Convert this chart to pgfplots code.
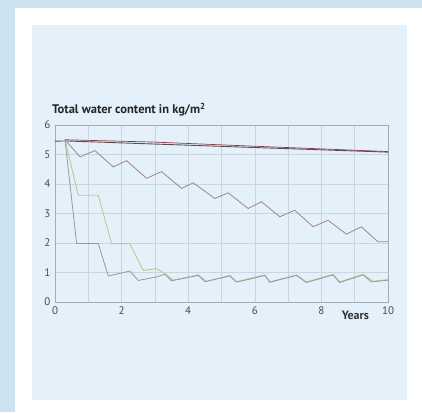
\documentclass[border=0pt]{standalone}
\usepackage{pgfplots}
\pgfplotsset{compat=1.18}
\usepackage{fontspec}
\setmainfont{PT Sans}
\definecolor{band}{HTML}{CDE2EF}
\definecolor{panel}{HTML}{E4F1FA}
\definecolor{gridc}{HTML}{C8D6DF}
\definecolor{axc}{HTML}{9FAEB8}
\definecolor{txt}{HTML}{4A4A4A}
\definecolor{topdark}{HTML}{5A5050}
\definecolor{topred}{HTML}{8C3B4E}
\definecolor{purp}{HTML}{A080A0}
\definecolor{greenl}{HTML}{B8CC92}
\definecolor{greyl}{HTML}{8E9CA4}
\begin{document}
\begin{tikzpicture}[x=1pt,y=1pt]
\fill[band] (0,0) rectangle (422,412);
\fill[white] (15,0) rectangle (422,404);
\fill[panel] (32,12) rectangle (407,387);
\node[anchor=base west,font=\fontsize{12.5}{14}\selectfont\bfseries,text=black!85,inner sep=0] at (52,298) {Total water content in kg/m\textsuperscript{2}};
\begin{axis}[
  at={(55pt,110pt)}, anchor=south west,
  scale only axis, width=333pt, height=177pt,
  xmin=0, xmax=10, ymin=0, ymax=6,
  xtick={0,2,4,6,8,10}, minor xtick={1,3,5,7,9},
  ytick={0,1,2,3,4,5,6},
  grid=both,
  major grid style={gridc, line width=0.5pt},
  minor grid style={gridc, line width=0.5pt},
  axis line style={axc, line width=0.7pt},
  tick style={draw=none},
  minor tick style={draw=none},
  /pgf/number format/assume math mode=true,
  ticklabel style={font=\fontsize{11}{12}\selectfont, text=txt},
  xticklabel style={yshift=-1pt},
  yticklabel style={xshift=-1pt},
  clip=false,
]
\addplot[topdark, line width=0.9pt] coordinates {(0,5.45) (0.3,5.46) (10,5.08)};
\addplot[topred, line width=0.7pt] coordinates {(0.3,5.5) (3,5.42) (6,5.28) (10,5.1)};
\addplot[purp, line width=0.8pt] coordinates {
(0.3,5.5)(0.75,4.92)(1.2,5.13)(1.75,4.58)(2.15,4.79)(2.75,4.19)(3.2,4.42)(3.8,3.85)(4.15,4.04)(4.8,3.51)(5.2,3.70)(5.8,3.17)(6.2,3.40)(6.75,2.89)(7.2,3.11)(7.75,2.55)(8.2,2.77)(8.75,2.30)(9.2,2.55)(9.7,2.04)(10,2.04)};
\addplot[greenl, line width=0.9pt] coordinates {
(0.3,5.5)(0.7,3.62)(1.3,3.62)(1.7,1.98)(2.25,1.98)(2.65,1.07)(3.05,1.13)(3.3,0.97)(3.55,0.74)(4.3,0.92)(4.55,0.70)(5.25,0.9)(5.45,0.69)(6.3,0.92)(6.45,0.68)(7.25,0.92)(7.55,0.68)(8.35,0.94)(8.55,0.68)(9.25,0.94)(9.55,0.7)(10,0.76)};
\addplot[greyl, line width=0.8pt] coordinates {
(0.3,5.5)(0.65,1.98)(1.3,1.98)(1.6,0.88)(2.25,1.05)(2.5,0.73)(3.05,0.85)(3.3,0.94)(3.5,0.72)(4.3,0.9)(4.5,0.69)(5.25,0.88)(5.45,0.67)(6.3,0.9)(6.45,0.67)(7.25,0.9)(7.55,0.66)(8.35,0.92)(8.55,0.66)(9.25,0.92)(9.5,0.68)(10,0.74)};
\node[font=\fontsize{12}{13}\selectfont\bfseries, text=black!80, anchor=center, inner sep=0] at (axis cs:9.02,0) [yshift=-13pt] {Years};
\end{axis}
\end{tikzpicture}
\end{document}
